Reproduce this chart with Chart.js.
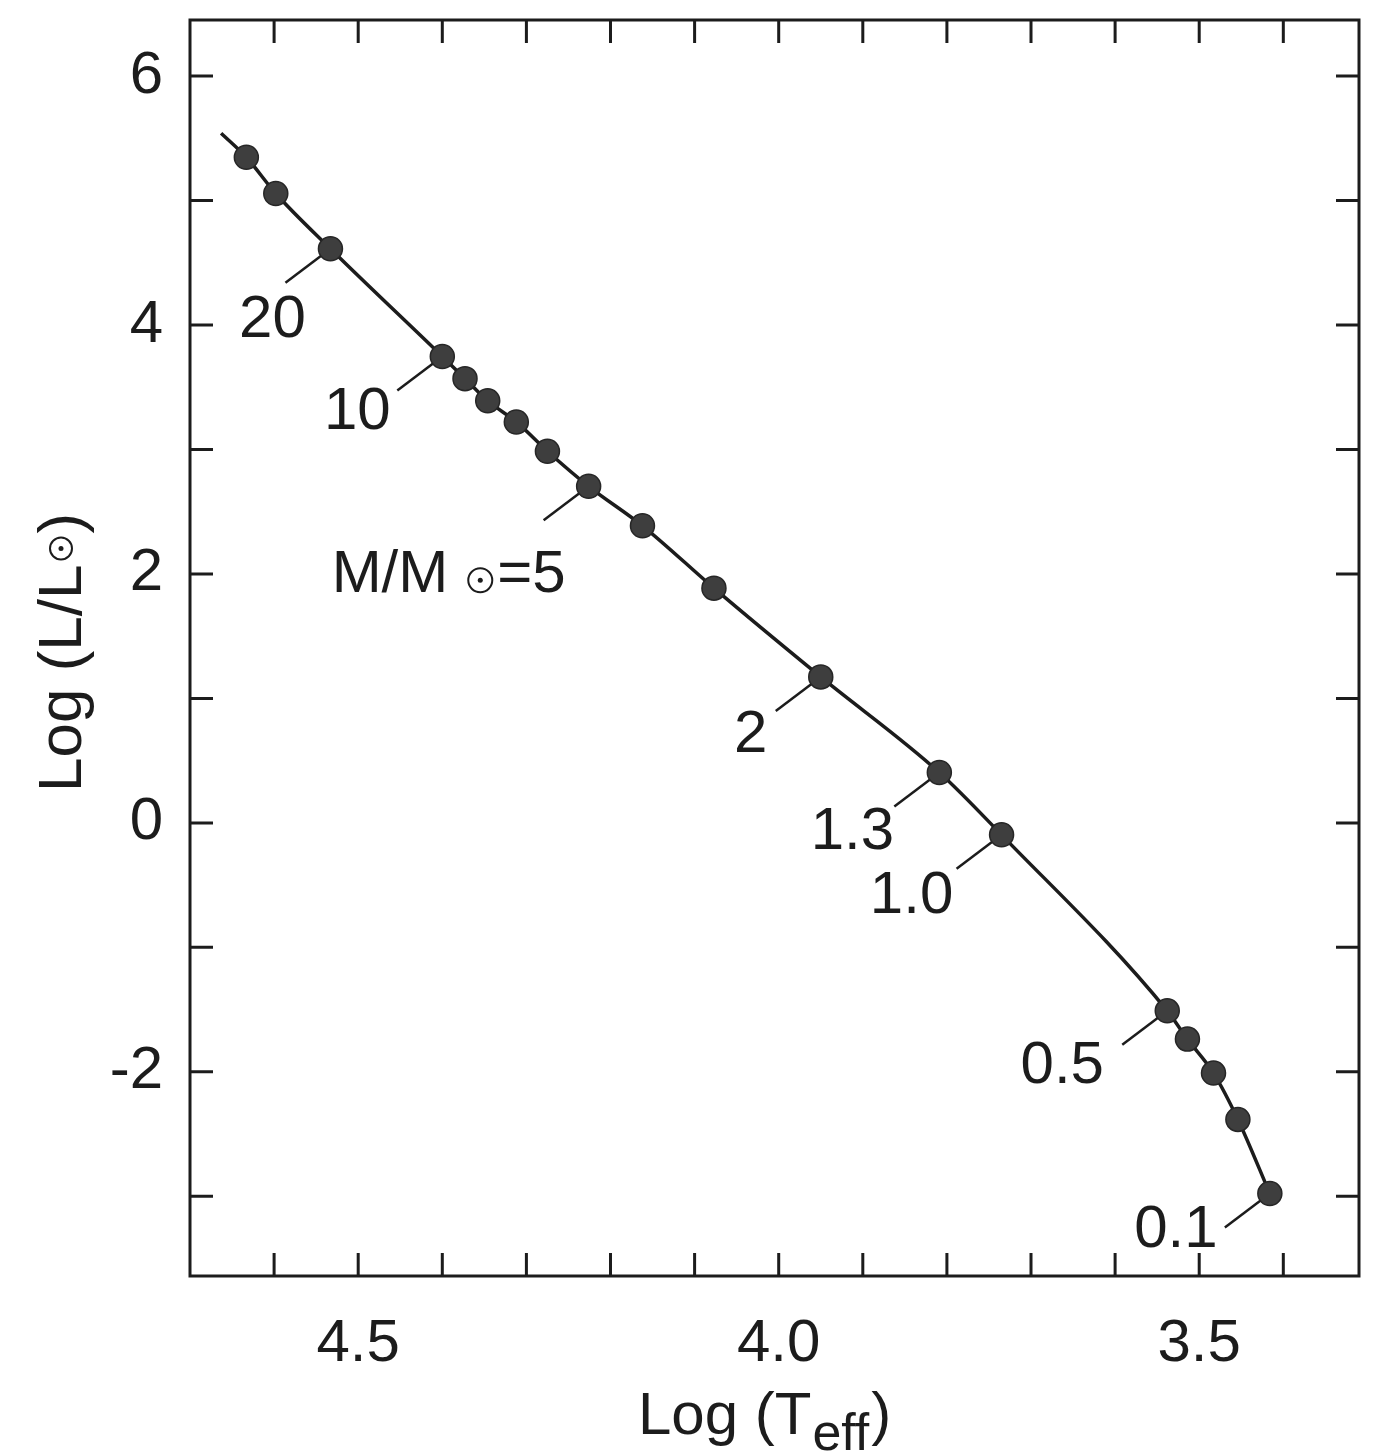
<!DOCTYPE html>
<html><head><meta charset="utf-8">
<script src="https://cdn.jsdelivr.net/npm/chart.js@4.4.1/dist/chart.umd.min.js"></script>
<style>html,body{margin:0;padding:0;background:#fff;} canvas{display:block;}</style>
</head><body>
<canvas id="c" width="1373" height="1453" style="width:1373px;height:1453px"></canvas>
<script>
// ---- data ----
const logTeff = [4.663, 4.633, 4.598, 4.533, 4.400, 4.373, 4.346, 4.312, 4.275, 4.226, 4.162, 4.077, 3.950, 3.809, 3.735, 3.538, 3.514, 3.483, 3.454, 3.416];
const logL    = [5.541, 5.347, 5.056, 4.612, 3.747, 3.569, 3.391, 3.221, 2.986, 2.704, 2.387, 1.886, 1.173, 0.405, -0.096, -1.510, -1.737, -2.010, -2.382, -2.978];
const hasMarker = [false, true, true, true, true, true, true, true, true, true, true, true, true, true, true, true, true, true, true, true];
const massLabels = ['20', '10', '5', '2', '1.3', '1.0', '0.5', '0.1'];
const massLabelIndex = [3, 4, 9, 12, 13, 14, 15, 19];
const xTickValues = [4.5, 4.0, 3.5];
const xTickLabels = ['4.5', '4.0', '3.5'];
const yTickValues = [6, 4, 2, 0, -2];
const yTickLabels = ['6', '4', '2', '0', '-2'];
const xMinorTicks = [4.6, 4.5, 4.4, 4.3, 4.2, 4.1, 4.0, 3.9, 3.8, 3.7, 3.6, 3.5, 3.4];
const yMinorTicks = [6, 5, 4, 3, 2, 1, 0, -1, -2, -3];

// ---- styles ----
const FONT = "'Liberation Sans', Arial, Helvetica, sans-serif";
const INK = '#1c1c1c';
const labelOffsets = [[-58, 72], [-85, 56], [0, 0], [-70, 59], [-87, 60], [-90, 62], [-105, 56], [-94, 37]];
const leaderEnd = [-45, 34];

const decor = {
  id: 'decor',
  beforeDatasetsDraw(chart) {
    const ctx = chart.ctx;
    const meta = chart.getDatasetMeta(0);
    ctx.save();
    ctx.strokeStyle = INK; ctx.lineWidth = 2.5; ctx.lineCap = 'butt';
    massLabelIndex.forEach(i => {
      const p = meta.data[i];
      ctx.beginPath();
      ctx.moveTo(p.x, p.y);
      ctx.lineTo(p.x + leaderEnd[0], p.y + leaderEnd[1]);
      ctx.stroke();
    });
    ctx.restore();
  },
  afterDraw(chart) {
    const ctx = chart.ctx;
    const a = chart.chartArea;
    const xs = chart.scales.x, ys = chart.scales.y;
    const meta = chart.getDatasetMeta(0);
    ctx.save();
    // frame
    ctx.strokeStyle = INK; ctx.lineWidth = 3;
    ctx.strokeRect(a.left, a.top, a.right - a.left, a.bottom - a.top);
    // inward ticks
    const TL = 23;
    ctx.beginPath();
    xMinorTicks.forEach(v => {
      const px = xs.getPixelForValue(v);
      ctx.moveTo(px, a.bottom); ctx.lineTo(px, a.bottom - TL);
      ctx.moveTo(px, a.top); ctx.lineTo(px, a.top + TL);
    });
    yMinorTicks.forEach(v => {
      const py = ys.getPixelForValue(v);
      ctx.moveTo(a.left, py); ctx.lineTo(a.left + TL, py);
      ctx.moveTo(a.right, py); ctx.lineTo(a.right - TL, py);
    });
    ctx.stroke();

    // mass labels
    ctx.fillStyle = INK;
    ctx.font = '60px ' + FONT;
    massLabelIndex.forEach((i, k) => {
      const p = meta.data[i];
      if (massLabels[k] === '5') {
        const bx = p.x - 257, by = p.y + 106;
        ctx.textAlign = 'left'; ctx.textBaseline = 'alphabetic';
        ctx.fillText('M/M', bx, by);
        const w = ctx.measureText('M/M').width;
        const cx = bx + w + 32, cy = by - 12;
        ctx.lineWidth = 2;
        ctx.beginPath(); ctx.arc(cx, cy, 12, 0, Math.PI * 2); ctx.stroke();
        ctx.beginPath(); ctx.arc(cx, cy, 2.5, 0, Math.PI * 2); ctx.fill();
        ctx.fillText('=' + massLabels[k], cx + 17, by);
      } else {
        ctx.textAlign = 'center'; ctx.textBaseline = 'middle';
        ctx.fillText(massLabels[k], p.x + labelOffsets[k][0], p.y + labelOffsets[k][1]);
      }
    });

    // x title: Log (T_eff)
    ctx.textAlign = 'left'; ctx.textBaseline = 'alphabetic';
    ctx.font = '60px ' + FONT;
    let tx = 638; const ty = 1434;
    ctx.fillText('Log (T', tx, ty);
    tx += ctx.measureText('Log (T').width;
    ctx.font = '52px ' + FONT;
    ctx.fillText('eff', tx + 1, ty + 16);
    tx += ctx.measureText('eff').width + 3;
    ctx.font = '60px ' + FONT;
    ctx.fillText(')', tx, ty);

    // y title: Log (L/L_sun)
    ctx.translate(81, 792);
    ctx.rotate(-Math.PI / 2);
    ctx.font = '62px ' + FONT;
    ctx.fillText('Log (L/L', 0, 0);
    let w2 = ctx.measureText('Log (L/L').width;
    const scx = w2 + 16, scy = -20;
    ctx.lineWidth = 2;
    ctx.beginPath(); ctx.arc(scx, scy, 11, 0, Math.PI * 2); ctx.stroke();
    ctx.beginPath(); ctx.arc(scx, scy, 2.5, 0, Math.PI * 2); ctx.fill();
    ctx.fillText(')', scx + 15, 0);
    ctx.restore();
  }
};

const bg = {
  id: 'bg',
  beforeDraw(chart) {
    const ctx = chart.ctx;
    ctx.save(); ctx.fillStyle = '#ffffff';
    ctx.fillRect(0, 0, chart.width, chart.height); ctx.restore();
  }
};

new Chart(document.getElementById('c').getContext('2d'), {
  type: 'line',
  data: {
    datasets: [{
      data: logTeff.map((x, i) => ({ x: x, y: logL[i] })),
      borderColor: INK,
      borderWidth: 3.5,
      cubicInterpolationMode: 'monotone',
      fill: false,
      pointRadius: c => hasMarker[c.dataIndex] ? 12 : 0,
      pointBackgroundColor: '#3e3e3e',
      pointBorderColor: '#262626',
      pointBorderWidth: 1.5,
      clip: false
    }]
  },
  options: {
    responsive: false,
    animation: false,
    devicePixelRatio: 1,
    layout: { padding: { top: 20, right: 14, left: 0, bottom: 0 } },
    plugins: { legend: { display: false }, tooltip: { enabled: false } },
    scales: {
      x: {
        type: 'linear', reverse: true, min: 3.31, max: 4.70,
        afterBuildTicks: s => { s.ticks = xTickValues.map(v => ({ value: v })); },
        afterFit: s => { s.height = 177; s.paddingLeft = 0; s.paddingRight = 0; },
        ticks: {
          autoSkip: false, maxRotation: 0, padding: 32, color: INK,
          font: { family: FONT, size: 60 },
          callback: v => xTickLabels[xTickValues.indexOf(v)]
        },
        grid: { display: false, drawTicks: false },
        border: { display: false }
      },
      y: {
        type: 'linear', min: -3.64, max: 6.45,
        afterBuildTicks: s => { s.ticks = yTickValues.map(v => ({ value: v })); },
        afterFit: s => { s.width = 190; s.paddingTop = 0; s.paddingBottom = 0; },
        ticks: {
          autoSkip: false, padding: 27, color: INK,
          font: { family: FONT, size: 60 },
          callback: v => yTickLabels[yTickValues.indexOf(v)]
        },
        grid: { display: false, drawTicks: false },
        border: { display: false }
      }
    }
  },
  plugins: [bg, decor]
});
</script>
</body></html>
